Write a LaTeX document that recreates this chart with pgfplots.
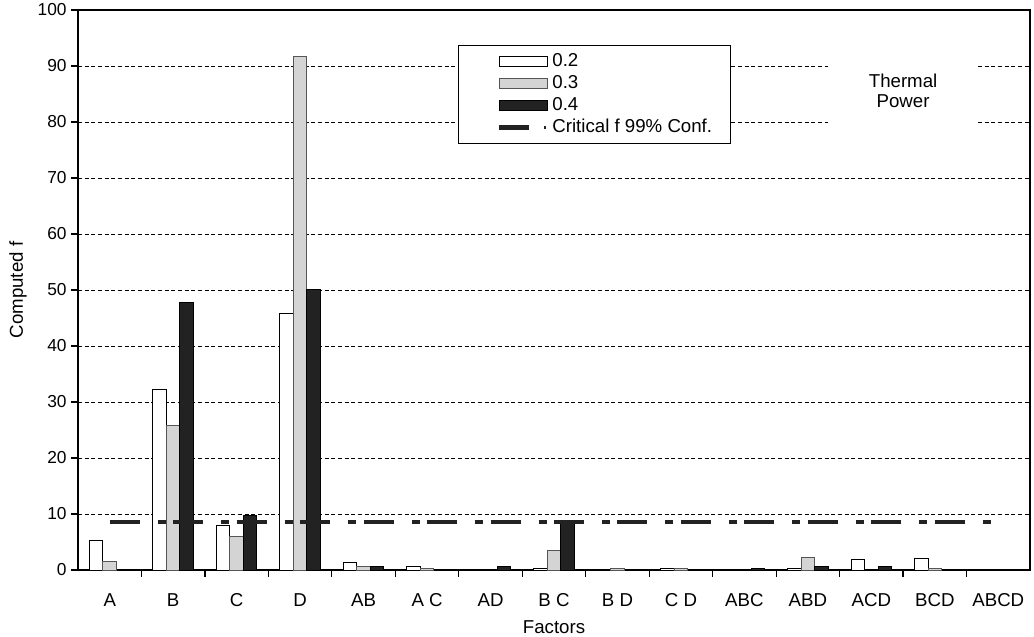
\documentclass[border=0pt]{standalone}
\usepackage{fontspec}
\setmainfont{Liberation Sans}
\usepackage{pgfplots}
\pgfplotsset{compat=1.18}
\usetikzlibrary{calc}
\definecolor{barblack}{HTML}{222222}
\definecolor{bargray}{HTML}{D4D4D4}
\definecolor{bargrayedge}{HTML}{555555}
\begin{document}
\begin{tikzpicture}
\begin{axis}[
  name=ax,
  scale only axis, width=714pt, height=420pt,
  xmin=-0.5, xmax=14.5, ymin=0, ymax=100,
  axis line style={line width=0.9pt, black},
  ytick={0,10,...,100},
  xtick={0,...,14},
  xticklabels={A,B,C,D,AB,A C,AD,B C,B D,C D,ABC,ABD,ACD,BCD,ABCD},
  minor xtick={0.5,1.5,...,13.5},
  xtick pos=bottom, ytick pos=left,
  tick align=outside,
  major tick length=5pt,
  minor tick length=5pt,
  major x tick style={draw=none},
  minor x tick style={line width=0.9pt, black},
  major y tick style={line width=0.9pt, black},
  ymajorgrids,
  grid style={black, line width=0.65pt, dash pattern=on 3pt off 2pt},
  yticklabel style={font=\fontsize{13}{15}\selectfont},
  xticklabel style={font=\fontsize{14}{16}\selectfont, anchor=base, yshift=-22pt},
  /pgf/number format/assume math mode=true,
  xlabel={Factors},
  ylabel={Computed f},
  label style={font=\fontsize{14}{16}\selectfont},
  xlabel style={at={(axis description cs:0.5,-0.1125)}, anchor=base},
  ylabel style={at={(axis description cs:-0.063,0.5)}, anchor=center},
  legend cell align=left,
  legend style={at={(0.399,0.9375)}, anchor=north west, draw=black, line width=0.8pt,
    fill=white, inner xsep=13pt, inner ysep=4.5pt, row sep=1.5pt,
    font=\fontsize{14}{16}\selectfont,
    nodes={inner sep=1pt, text height=10pt, text depth=3pt}},
]
\addplot[ybar, bar width=0.213, bar shift=-0.213, fill=white, draw=black, line width=0.75pt,
  legend image code/.code={\path (0pt,0pt) (53.5pt,0pt); \draw[fill=white, draw=black, line width=0.75pt] (16pt,-3.75pt) rectangle (52pt,3.75pt);}]
  coordinates {(0,5.2) (1,32.2) (2,7.9) (3,45.8) (4,1.4) (5,0.7) (7,0.2) (9,0.3) (11,0.3) (12,1.8) (13,2.1)};
\addlegendentry{0.2}
\addplot[ybar, bar width=0.213, bar shift=0, fill=bargray, draw=bargrayedge, line width=0.75pt,
  legend image code/.code={\path (0pt,0pt) (53.5pt,0pt); \draw[fill=bargray, draw=bargrayedge, line width=0.75pt] (16pt,-3.75pt) rectangle (52pt,3.75pt);}]
  coordinates {(0,1.5) (1,25.8) (2,6.0) (3,91.7) (4,0.6) (5,0.3) (7,3.5) (8,0.3) (9,0.3) (11,2.2) (13,0.3)};
\addlegendentry{0.3}
\addplot[ybar, bar width=0.213, bar shift=0.213, fill=barblack, draw=black, line width=0.75pt,
  legend image code/.code={\path (0pt,0pt) (53.5pt,0pt); \draw[fill=barblack, draw=black, line width=0.75pt] (16pt,-3.75pt) rectangle (52pt,3.75pt);}]
  coordinates {(1,47.8) (2,9.8) (3,50.1) (4,0.6) (6,0.6) (7,8.5) (10,0.3) (11,0.7) (12,0.7)};
\addlegendentry{0.4}
\addplot[barblack, line width=3pt, dash pattern=on 22.5pt off 13.5pt on 6pt off 5.6pt,
  legend image code/.code={\path (0pt,0pt) (53.5pt,0pt); \draw[barblack, line width=3.5pt] (16pt,0pt) -- (38.5pt,0pt); \draw[barblack, line width=1.2pt] (50.5pt,-1.4pt) -- (50.5pt,1.4pt);}]
  coordinates {(0,8.5) (14,8.5)};
\addlegendentry{Critical f 99\% Conf.}
\node[fill=white, align=center, minimum width=112pt, minimum height=62pt,
  font=\fontsize{14}{15}\selectfont] at (axis cs:12.5,85.6) {Thermal\\Power};
\end{axis}
\pgfresetboundingbox
\path ($(ax.south west)+(-58.5pt,-49.5pt)$) rectangle ($(ax.north east)+(3pt,7.5pt)$);
\end{tikzpicture}
\end{document}
